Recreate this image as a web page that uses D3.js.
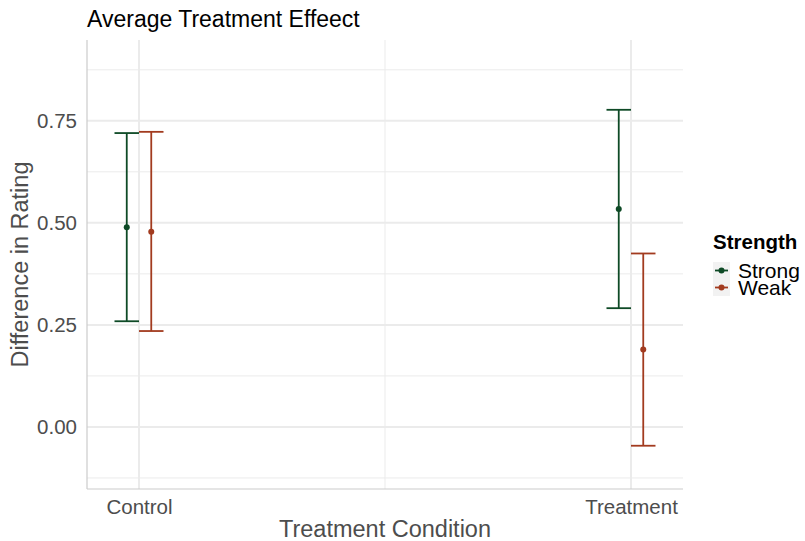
<!DOCTYPE html>
<html>
<head>
<meta charset="utf-8">
<script src="https://d3js.org/d3.v7.min.js"></script>
<style>
  body { margin: 0; background: #fff; }
  text { font-family: "Liberation Sans", Arial, sans-serif; }
</style>
</head>
<body>
<svg id="chart" width="805" height="541"></svg>
<script>
// data
const conditions = ['Control', 'Treatment'];
const strengths = ['Strong', 'Weak'];
const estimate = { Control: [0.489, 0.478], Treatment: [0.534, 0.190] };
const lower    = { Control: [0.259, 0.235], Treatment: [0.291, -0.046] };
const upper    = { Control: [0.720, 0.723], Treatment: [0.777, 0.425] };
const yTicks = [0, 0.25, 0.5, 0.75];
const yMinor = [-0.125, 0.125, 0.375, 0.625, 0.875];
const colors = ['#0e4a26', '#a23b1f'];

const rows = [];
conditions.forEach(c => strengths.forEach((s, i) => {
    rows.push({cond: c, str: s, est: estimate[c][i], lo: lower[c][i], hi: upper[c][i]});
}));

const svg = d3.select('svg#chart');
const pLeft = 87, pRight = 683, pTop = 40, pBottom = 489;

const x = d3.scalePoint().domain(conditions).range([pLeft, pRight]).padding(0.1057);
const dodge = d3.scaleBand().domain(strengths).range([-24.5, 24.5]);
const y = d3.scaleLinear().domain([-0.152, 0.948]).range([pBottom, pTop]);
const color = d3.scaleOrdinal().domain(strengths).range(colors);

// grid
const g = svg.append('g');
g.selectAll('line.minor').data(yMinor).join('line')
    .attr('x1', pLeft).attr('x2', pRight)
    .attr('y1', d => y(d)).attr('y2', d => y(d))
    .attr('stroke', '#ebebeb').attr('stroke-width', 1);
const xMid = (x('Control') + x('Treatment')) / 2;
g.append('line')
    .attr('x1', xMid).attr('x2', xMid)
    .attr('y1', pTop).attr('y2', pBottom)
    .attr('stroke', '#ebebeb').attr('stroke-width', 1);
g.selectAll('line.major').data(yTicks).join('line')
    .attr('x1', pLeft).attr('x2', pRight)
    .attr('y1', d => y(d)).attr('y2', d => y(d))
    .attr('stroke', '#ebebeb').attr('stroke-width', 2);
g.selectAll('line.vmajor').data(conditions).join('line')
    .attr('x1', d => x(d)).attr('x2', d => x(d))
    .attr('y1', pTop).attr('y2', pBottom)
    .attr('stroke', '#ebebeb').attr('stroke-width', 2);

// axis lines
svg.append('line').attr('x1', pLeft).attr('x2', pLeft).attr('y1', pTop).attr('y2', pBottom)
    .attr('stroke', '#cccccc').attr('stroke-width', 1.2);
svg.append('line').attr('x1', pLeft).attr('x2', pRight).attr('y1', pBottom).attr('y2', pBottom)
    .attr('stroke', '#cccccc').attr('stroke-width', 1.2);

// axes labels
const yAxis = svg.append('g').attr('transform', `translate(${pLeft},0)`)
    .call(d3.axisLeft(y).tickValues(yTicks).tickFormat(d3.format('.2f')).tickSize(0).tickPadding(10));
yAxis.select('.domain').remove();
yAxis.selectAll('text').attr('font-size', 20.5).attr('fill', '#4d4d4d')
    .attr('font-family', '"Liberation Sans", Arial, sans-serif');

const xAxis = svg.append('g').attr('transform', `translate(0,${pBottom})`)
    .call(d3.axisBottom(x).tickSize(0).tickPadding(10));
xAxis.select('.domain').remove();
xAxis.selectAll('text').attr('font-size', 20.5).attr('fill', '#4d4d4d')
    .attr('font-family', '"Liberation Sans", Arial, sans-serif');

// error bars
const bars = svg.append('g');
rows.forEach(d => {
    const cx = x(d.cond) + dodge(d.str) + dodge.bandwidth() / 2;
    const w = dodge.bandwidth() / 2;
    const col = color(d.str);
    bars.append('line').attr('x1', cx).attr('x2', cx).attr('y1', y(d.lo)).attr('y2', y(d.hi))
        .attr('stroke', col).attr('stroke-width', 1.8);
    bars.append('line').attr('x1', cx - w).attr('x2', cx + w).attr('y1', y(d.lo)).attr('y2', y(d.lo))
        .attr('stroke', col).attr('stroke-width', 1.8);
    bars.append('line').attr('x1', cx - w).attr('x2', cx + w).attr('y1', y(d.hi)).attr('y2', y(d.hi))
        .attr('stroke', col).attr('stroke-width', 1.8);
    bars.append('circle').attr('cx', cx).attr('cy', y(d.est)).attr('r', 3).attr('fill', col);
});

// titles
svg.append('text').attr('x', pLeft).attr('y', 27).attr('font-size', 23).attr('fill', '#000')
    .text('Average Treatment Effeect');
svg.append('text').attr('x', (pLeft + pRight) / 2).attr('y', 537).attr('text-anchor', 'middle')
    .attr('font-size', 23.5).attr('fill', '#4d4d4d').text('Treatment Condition');
svg.append('text').attr('transform', `translate(28,${(pTop + pBottom) / 2}) rotate(-90)`)
    .attr('text-anchor', 'middle').attr('font-size', 23.5).attr('fill', '#4d4d4d')
    .text('Difference in Rating');

// legend
const leg = svg.append('g');
leg.append('text').attr('x', 713).attr('y', 249).attr('font-size', 20.5).attr('font-weight', 'bold')
    .text('Strength');
strengths.forEach((s, i) => {
    const ky = 262 + i * 17;
    leg.append('rect').attr('x', 713).attr('y', ky).attr('width', 17).attr('height', 17).attr('fill', '#f2f2f2');
    leg.append('line').attr('x1', 715).attr('x2', 728).attr('y1', ky + 8.5).attr('y2', ky + 8.5)
        .attr('stroke', color(s)).attr('stroke-width', 1.8);
    leg.append('circle').attr('cx', 721.5).attr('cy', ky + 8.5).attr('r', 3).attr('fill', color(s));
    leg.append('text').attr('x', 738).attr('y', ky + 16).attr('font-size', 21).attr('fill', '#000').text(s);
});
</script>
</body>
</html>
